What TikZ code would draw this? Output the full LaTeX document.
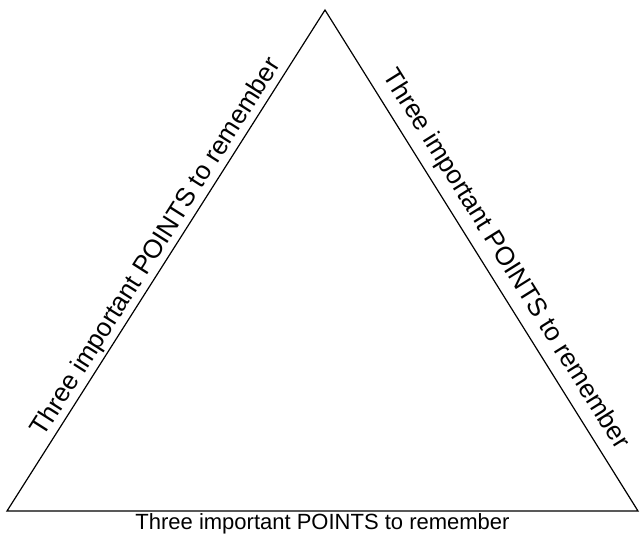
\documentclass[tikz,border=0pt]{standalone}
\usepackage{fontspec}
\setmainfont{Liberation Sans}
\usepackage{tikz}
\usetikzlibrary{positioning}

\begin{document}
\begin{tikzpicture}[x=1pt,y=1pt]
	\tikzstyle{sidetext}=[font=\fontsize{26}{31}\selectfont, sloped, inner sep=2pt]
	\tikzstyle{basetext}=[font=\fontsize{22}{26}\selectfont, inner sep=2pt]
	\useasboundingbox (0,0) rectangle (640,545);
	\coordinate (apex) at (325,535);
	\coordinate (bl) at (7,34);
	\coordinate (br) at (638,34);
	\draw[line width=1.2pt, line join=miter]
		(bl) -- node[sidetext, above, pos=0.51] {Three important POINTS to remember} (apex)
		-- node[sidetext, above, pos=0.52, inner ysep=8pt] {Three important POINTS to remember} (br)
		-- node[basetext, below] {Three important POINTS to remember} cycle;
\end{tikzpicture}
\end{document}
